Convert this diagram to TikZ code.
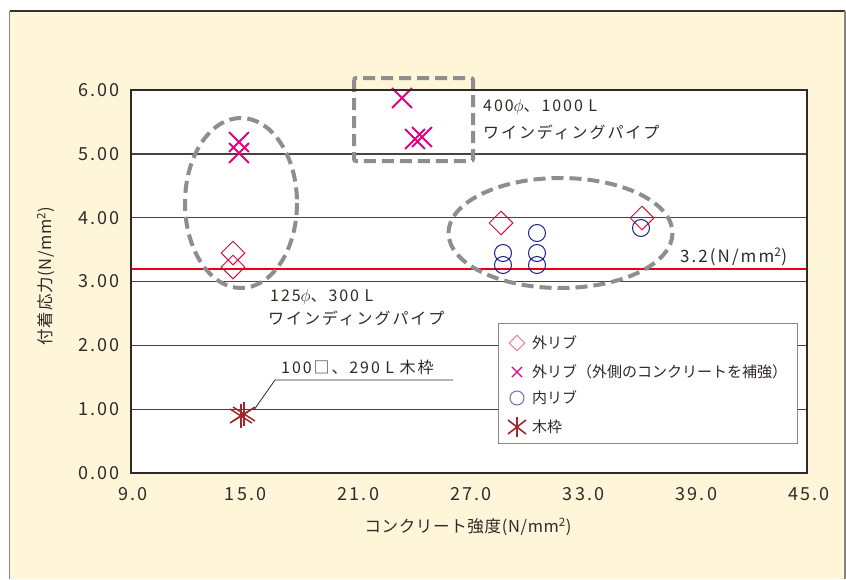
\documentclass[tikz,border=0pt]{standalone}
\usepackage{fontspec}
\setmainfont{Noto Sans CJK JP}
\newfontfamily\numfont[LetterSpace=12]{Noto Sans CJK JP}
\newfontfamily\annfont[LetterSpace=12]{Noto Sans CJK JP}
\newfontfamily\legfont[LetterSpace=4]{Noto Sans CJK JP}
\usetikzlibrary{shapes.geometric,shapes.misc}
\definecolor{cream}{HTML}{FFF5D8}
\definecolor{framedark}{HTML}{3A302B}
\definecolor{framegray}{HTML}{8A8480}
\definecolor{griddark}{HTML}{4A4340}
\definecolor{axisdark}{HTML}{2F2A28}
\definecolor{refred}{HTML}{E60012}
\definecolor{dashgray}{HTML}{8E8E8E}
\definecolor{diacol}{HTML}{D0103A}
\definecolor{crosscol}{HTML}{E4007F}
\definecolor{circcol}{HTML}{1D2088}
\definecolor{starcol}{HTML}{A0282D}
\definecolor{legdia}{HTML}{E8738F}
\definecolor{legcirc}{HTML}{6F72B8}
\begin{document}
\begin{tikzpicture}[x=1pt,y=-1pt,
  gridline/.style={draw=griddark,line width=1.3pt},
  groupmark/.style={draw=dashgray,line width=4pt,dash pattern=on 12pt off 6pt},
  mdiam/.style={diamond,draw=diacol,line width=1pt,minimum width=24pt,minimum height=24pt,inner sep=0pt},
  mcross/.style={cross out,draw=crosscol,line width=1.8pt,minimum size=18pt,inner sep=0pt},
  mcirc/.style={circle,draw=circcol,line width=1pt,minimum size=17pt,inner sep=0pt},
  ticky/.style={anchor=east,font=\numfont\fontsize{18}{19}\selectfont,text=axisdark,inner sep=0pt},
  tickx/.style={anchor=center,font=\numfont\fontsize{18}{19}\selectfont,text=axisdark,inner sep=0pt},
  annot/.style={anchor=west,font=\annfont\fontsize{16}{17}\selectfont,text=axisdark,inner sep=0pt},
  legtext/.style={anchor=west,font=\fontsize{15}{16}\selectfont,text=axisdark,inner sep=0pt},
  axtitle/.style={font=\legfont\fontsize{16.5}{17}\selectfont,text=axisdark,inner sep=0pt}
]
\useasboundingbox (0,0) rectangle (846,579);
\fill[white] (0,0) rectangle (846,579);
\fill[cream] (9.5,11) rectangle (845,579);
\draw[framegray,line width=1.6pt] (9.5,579) -- (9.5,11);
\draw[framedark,line width=1.2pt] (9.5,11) -- (845,11);
\draw[framegray,line width=1.4pt] (845,11) -- (845,579);
% plot area
\fill[white] (131,90) rectangle (807,473);
\foreach \i in {1,...,5}{
  \draw[gridline] (131,473-\i*63.83) -- (807,473-\i*63.83);
}
% reference line 3.2
\draw[refred,line width=1.6pt] (131,268.8) -- (807,268.8);
\node[annot,font=\annfont\fontsize{17}{18}\selectfont] (reflab) at (680,257) {3.2(N/mm\textsuperscript{2})};
% group marks
\draw[groupmark] (241,203) ellipse (56 and 85);
\draw[groupmark] (560.5,233) ellipse (112 and 55);
\draw[groupmark,rounded corners=2pt] (354,78) rectangle (473,161);
% data: left group
\node[mcross] (c1) at (239,142) {};
\node[mcross] (c2) at (239,153) {};
\node[mdiam] (d1) at (233,253) {};
\node[mdiam] (d2) at (233,267) {};
% top group
\node[mcross] (c3) at (402,98) {};
\node[mcross] (c4) at (415,139) {};
\node[mcross] (c5) at (422,137) {};
% right group
\node[mdiam] (d3) at (501,223) {};
\node[mdiam] (d4) at (642,218) {};
\node[mcirc] (o1) at (503,253) {};
\node[mcirc] (o2) at (503,265) {};
\node[mcirc] (o3) at (537,233) {};
\node[mcirc] (o4) at (537,253) {};
\node[mcirc] (o5) at (537,265) {};
\node[mcirc] (o6) at (641,228) {};
% wooden frame star
\coordinate (s1) at (241,416);
\coordinate (s2) at (244,414);
\foreach \s in {s1,s2}{
  \draw[starcol,line width=1.5pt] ([shift={(0,-12)}]\s) -- ([shift={(0,12)}]\s);
  \draw[starcol,line width=1.5pt] ([shift={(-11,-7)}]\s) -- ([shift={(11,7)}]\s);
  \draw[starcol,line width=1.5pt] ([shift={(-11,7)}]\s) -- ([shift={(11,-7)}]\s);
}
% leader line
\coordinate (leadstart) at (254,410);
\coordinate (leadbend) at (275,380);
\coordinate (leadend) at (453,380);
\draw[axisdark,line width=0.8pt] (leadstart) -- (leadbend) -- (leadend);
\node[annot] (lab100) at (281,367) {100□、290 L 木枠};
% annotations
\node[annot] (lab400a) at (483,107) {400$\phi$、1000 L};
\node[annot] (lab400b) at (483,132) {ワインディングパイプ};
\node[annot] (lab125a) at (270,297) {125$\phi$、300 L};
\node[annot] (lab125b) at (268,318) {ワインディングパイプ};
% legend
\draw[draw=framegray,fill=white,line width=1pt] (498,323) rectangle (797,443);
\node[diamond,draw=legdia,line width=0.9pt,minimum width=16pt,minimum height=16pt,inner sep=0pt] (ld) at (517,343) {};
\node[cross out,draw=crosscol,line width=1.2pt,minimum size=9pt,inner sep=0pt] (lx) at (517,372) {};
\node[circle,draw=legcirc,line width=1pt,minimum size=14pt,inner sep=0pt] (lo) at (517,398) {};
\coordinate (ls) at (517,427);
\draw[starcol,line width=1.6pt] ([shift={(0,-10)}]ls) -- ([shift={(0,10)}]ls);
\draw[starcol,line width=1.6pt] ([shift={(-9,-7)}]ls) -- ([shift={(9,7)}]ls);
\draw[starcol,line width=1.6pt] ([shift={(-9,7)}]ls) -- ([shift={(9,-7)}]ls);
\node[legtext] (lt1) at (532,343) {外リブ};
\node[legtext] (lt2) at (532,372) {外リブ（外側のコンクリートを補強）};
\node[legtext] (lt3) at (532,398) {内リブ};
\node[legtext] (lt4) at (532,427) {木枠};
% axes border
\draw[axisdark,line width=2pt] (131,90) rectangle (807,473);
% tick labels
\foreach \v [count=\i from 0] in {0.00,1.00,2.00,3.00,4.00,5.00,6.00}{
  \node[ticky] at (120,473-\i*63.83) {\v};
}
\foreach \v [count=\i from 0] in {9.0,15.0,21.0,27.0,33.0,39.0,45.0}{
  \node[tickx] at (133+\i*112.67,494) {\v};
}
\node[axtitle] (xtitle) at (468,527) {コンクリート強度(N/mm\textsuperscript{2})};
\node[axtitle,rotate=90] (ytitle) at (46,276) {付着応力(N/mm\textsuperscript{2})};
\end{tikzpicture}
\end{document}
